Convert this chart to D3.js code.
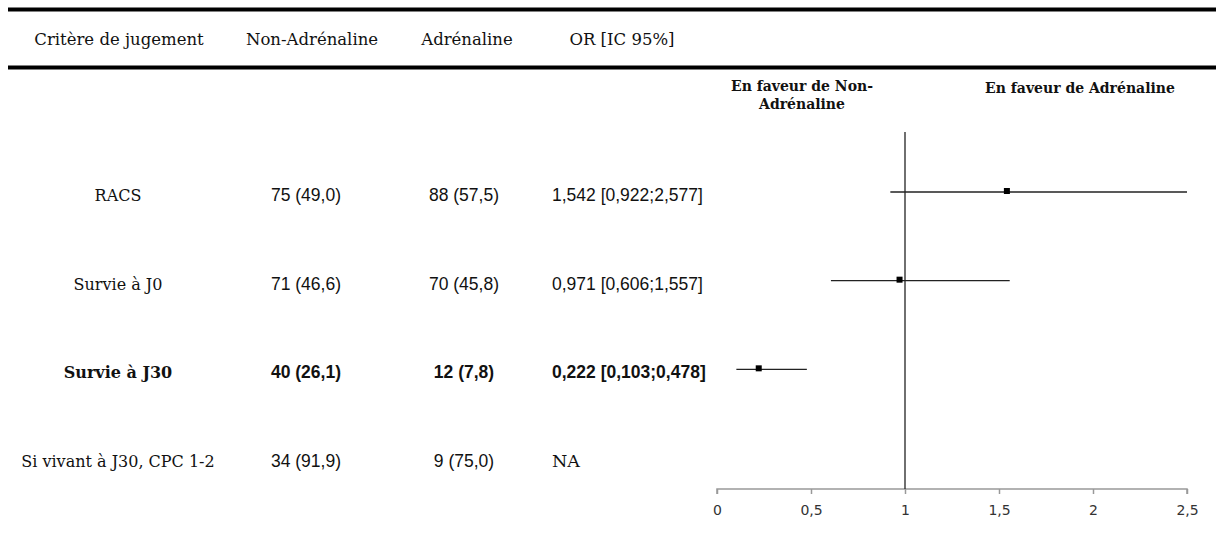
<!DOCTYPE html>
<html>
<head>
<meta charset="utf-8">
<script src="https://cdn.jsdelivr.net/npm/d3@7/dist/d3.min.js"></script>
<style>
  html, body { margin: 0; padding: 0; background: #fff; }
  svg { display: block; }
</style>
</head>
<body>
<svg id="chart" width="1216" height="535"></svg>
<script>
// Table columns and rows
const headers = ["Critère de jugement", "Non-Adrénaline", "Adrénaline", "OR [IC 95%]"];
const outcomes = ["RACS", "Survie à J0", "Survie à J30", "Si vivant à J30, CPC 1-2"];
const nonAdrenaline = ["75 (49,0)", "71 (46,6)", "40 (26,1)", "34 (91,9)"];
const adrenaline = ["88 (57,5)", "70 (45,8)", "12 (7,8)", "9 (75,0)"];
const orLabels = ["1,542 [0,922;2,577]", "0,971 [0,606;1,557]", "0,222 [0,103;0,478]", "NA"];
const boldRows = [false, false, true, false];

// Odds ratios with 95% CI (null where not estimated)
const orValue = [1.542, 0.971, 0.222, null];
const ciLow = [0.922, 0.606, 0.103, null];
const ciHigh = [2.577, 1.557, 0.478, null];

const xTicks = [0, 0.5, 1, 1.5, 2, 2.5];
const favourLeft = ["En faveur de Non-", "Adrénaline"];
const favourRight = ["En faveur de Adrénaline"];

const svg = d3.select("#chart");
const serif = "'DejaVu Serif', serif";
const sans = "'Liberation Sans', Arial, sans-serif";

// Header rules
[9.5, 67.5].forEach(y => {
  svg.append("line").attr("x1", 8).attr("x2", 1216).attr("y1", y).attr("y2", y)
    .attr("stroke", "#000").attr("stroke-width", 4);
});

// Header labels
const headerX = [119, 312, 467, 622];
svg.selectAll("text.hdr").data(headers).join("text")
  .attr("class", "hdr")
  .attr("x", (d, i) => headerX[i]).attr("y", 45)
  .attr("text-anchor", "middle")
  .attr("font-family", serif).attr("font-size", 16.5).attr("fill", "#111")
  .text(d => d);

// Row positions
const y = d3.scalePoint().domain(outcomes).range([192, 458]);

const rows = outcomes.map((o, i) => ({
  outcome: o, non: nonAdrenaline[i], adr: adrenaline[i], or: orLabels[i],
  bold: boldRows[i], est: orValue[i], lo: ciLow[i], hi: ciHigh[i]
}));

const cols = [
  { key: "outcome", x: 118, anchor: "middle", font: serif, size: 16 },
  { key: "non", x: 306, anchor: "middle", font: sans, size: 17.5 },
  { key: "adr", x: 464, anchor: "middle", font: sans, size: 17.5 },
  { key: "or", x: 552, anchor: "start", font: sans, size: 17.5 }
];
cols.forEach(c => {
  svg.selectAll(null).data(rows).join("text")
    .attr("x", c.x).attr("y", d => y(d.outcome) + 9)
    .attr("text-anchor", c.anchor)
    .attr("font-family", d => (d.or === "NA" && c.key === "or") ? serif : c.font)
    .attr("font-size", c.size)
    .attr("font-weight", d => d.bold ? "bold" : "normal")
    .attr("fill", "#111")
    .text(d => d[c.key]);
});

// Forest plot
const x = d3.scaleLinear().domain([0, 2.5]).range([717, 1187]);
const axisY = 489;

const axis = svg.append("g")
  .attr("transform", `translate(0,${axisY})`)
  .call(d3.axisBottom(x).tickValues(xTicks).tickSize(5).tickPadding(11)
    .tickFormat(d => d3.format("")(d).replace(".", ",")));
axis.attr("font-size", 14).attr("font-family", "'DejaVu Sans', sans-serif");
axis.select(".domain").attr("stroke", "#999").attr("stroke-width", 1.5)
  .attr("d", `M${x(0)},5V0H${x(2.5)}V5`);
axis.selectAll(".tick line").attr("stroke", "#999").attr("stroke-width", 1.5);
axis.selectAll(".tick text").attr("fill", "#333")
  .style("font-size", "14px").style("font-family", "'DejaVu Sans', sans-serif");

// Line of no effect
svg.append("line")
  .attr("x1", x(1)).attr("x2", x(1)).attr("y1", 132).attr("y2", axisY)
  .attr("stroke", "#222").attr("stroke-width", 1.3);

const est = rows.filter(d => d.est != null);
svg.selectAll("line.ci").data(est).join("line")
  .attr("class", "ci")
  .attr("x1", d => x(Math.max(d.lo, 0)))
  .attr("x2", d => x(Math.min(d.hi, 2.5)))
  .attr("y1", d => y(d.outcome)).attr("y2", d => y(d.outcome))
  .attr("stroke", "#222").attr("stroke-width", 1.3);

svg.selectAll("rect.pt").data(est).join("rect")
  .attr("class", "pt")
  .attr("x", d => x(d.est) - 3).attr("y", d => y(d.outcome) - 4)
  .attr("width", 6).attr("height", 6)
  .attr("fill", "#000");

// Direction labels
svg.selectAll(null).data(favourLeft).join("text")
  .attr("x", 802).attr("y", (d, i) => 91 + i * 18)
  .attr("text-anchor", "middle")
  .attr("font-family", serif).attr("font-weight", "bold").attr("font-size", 14)
  .attr("fill", "#111").text(d => d);
svg.selectAll(null).data(favourRight).join("text")
  .attr("x", 1080).attr("y", 93)
  .attr("text-anchor", "middle")
  .attr("font-family", serif).attr("font-weight", "bold").attr("font-size", 14)
  .attr("fill", "#111").text(d => d);
</script>
</body>
</html>
